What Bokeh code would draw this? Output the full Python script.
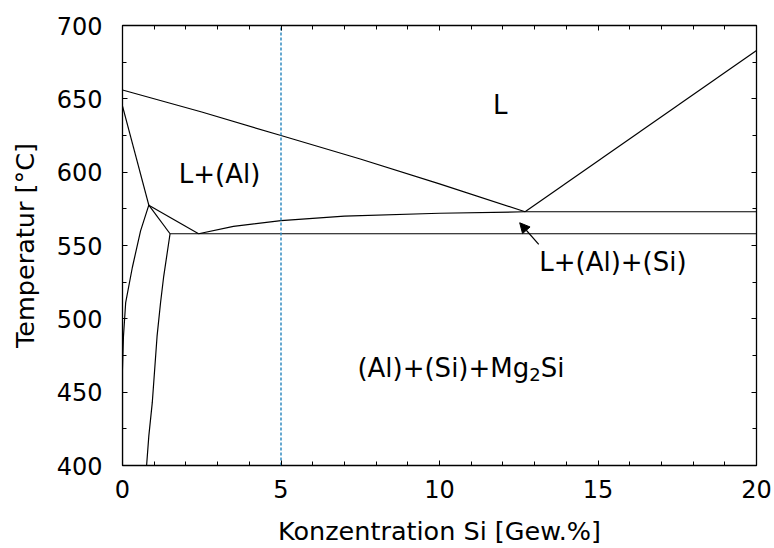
from bokeh.plotting import figure
from bokeh.models import LinearAxis, Range1d, Label, Arrow, NormalHead, SingleIntervalTicker
from bokeh.embed import file_html
from bokeh.resources import INLINE

# --- data ---
liq_al_x = [0.0, 2.5, 5.0, 7.5, 10.0, 12.7]
liq_al_y = [656, 641, 625, 609, 592, 573]
liq_si_x = [12.7, 20.0]
liq_si_y = [573, 683]
trough_x = [2.4, 3.5, 5.0, 7.0, 10.0, 12.7, 20.0]
trough_y = [558, 563, 567, 570, 572, 573, 573]
eut_x = [1.5, 20.0]
eut_y = [558, 558]
sol_x = [0.0, 0.83]
sol_y = [645, 577.5]
tie1_x = [0.83, 2.4]
tie1_y = [577.5, 558]
tie2_x = [0.83, 1.5]
tie2_y = [577.5, 558]
solvus1_x = [0.83, 0.57, 0.31, 0.1, 0.03, 0.0, 0.0]
solvus1_y = [577.5, 560, 535, 511, 488, 465, 400]
solvus2_x = [1.5, 1.3, 1.2, 1.09, 0.94, 0.83, 0.76]
solvus2_y = [558, 529, 511, 488, 443, 420, 400]
alloy_x = [5.0, 5.0]
alloy_y = [400, 700]

FONT = "DejaVu Sans"
LAB = 26  # region label font size (px)

p = figure(width=774, height=548, output_backend="svg", toolbar_location=None,
           x_range=Range1d(0, 20), y_range=Range1d(400, 700),
           min_border_left=122, min_border_right=18, min_border_top=25, min_border_bottom=82)
p.grid.visible = False
p.outline_line_color = "black"
p.outline_line_width = 1.3
p.background_fill_color = "white"
p.border_fill_color = "white"

lines = [(liq_al_x, liq_al_y), (liq_si_x, liq_si_y), (trough_x, trough_y), (eut_x, eut_y),
         (sol_x, sol_y), (tie1_x, tie1_y), (tie2_x, tie2_y), (solvus1_x, solvus1_y),
         (solvus2_x, solvus2_y)]
for xs, ys in lines:
    p.line(xs, ys, line_color="black", line_width=1.2)

p.line(alloy_x, alloy_y, line_color="#2f8ac0", line_width=1.5, line_dash="3 2")

def style_axis(ax, labels=True):
    ax.axis_line_color = None
    ax.major_tick_in = 5
    ax.major_tick_out = 0
    ax.minor_tick_in = 4
    ax.minor_tick_out = 0
    ax.major_tick_line_color = "black"
    ax.minor_tick_line_color = "black"
    if labels:
        ax.major_label_text_font = FONT
        ax.major_label_text_font_size = "24px"
        ax.major_label_text_color = "black"
        ax.axis_label_text_font = FONT
        ax.axis_label_text_font_size = "25.5px"
        ax.axis_label_text_font_style = "normal"
        ax.axis_label_text_color = "black"
    else:
        ax.major_label_text_font_size = "0px"
        ax.major_label_text_color = None

xb = p.xaxis[0]
xb.ticker = SingleIntervalTicker(interval=5, num_minor_ticks=5)
xb.axis_label = "Konzentration Si [Gew.%]"
xb.major_label_standoff = 14
xb.axis_label_standoff = 15
style_axis(xb)

yl = p.yaxis[0]
yl.ticker = SingleIntervalTicker(interval=50, num_minor_ticks=2)
yl.axis_label = "Temperatur [°C]"
yl.major_label_standoff = 20
yl.axis_label_standoff = 14
yl.major_label_orientation = "horizontal"
style_axis(yl)

xt = LinearAxis(ticker=SingleIntervalTicker(interval=5, num_minor_ticks=5))
style_axis(xt, labels=False)
p.add_layout(xt, "above")
yr = LinearAxis(ticker=SingleIntervalTicker(interval=50, num_minor_ticks=2))
style_axis(yr, labels=False)
p.add_layout(yr, "right")

def lab(x, y, t, anchor="center", size=LAB, xo=0, yo=0):
    p.add_layout(Label(x=x, y=y, text=t, text_font=FONT, text_font_size=f"{size}px",
                       text_color="black", text_align=anchor, text_baseline="middle",
                       x_offset=xo, y_offset=yo))

lab(11.92, 645.5, "L")
lab(3.06, 598.5, "L+(Al)")
lab(15.47, 538.8, "L+(Al)+(Si)")

# "(Al)+(Si)+Mg2Si" with a real subscript, assembled from pieces
mg_x, mg_y = 7.41, 466.5
w_main = 6.609 * LAB
sub = 18
lab(mg_x, mg_y, "(Al)+(Si)+Mg", anchor="left")
lab(mg_x, mg_y, "2", anchor="left", size=sub, xo=w_main, yo=-7)
lab(mg_x, mg_y, "Si", anchor="left", xo=w_main + 0.636 * sub)

p.add_layout(Arrow(x_start=13.13, y_start=550.8, x_end=12.53, y_end=565.5,
                   line_color="black", line_width=1.2,
                   end=NormalHead(size=10, fill_color="black", line_color="black")))

open("out.html", "w").write(file_html(p, INLINE))
